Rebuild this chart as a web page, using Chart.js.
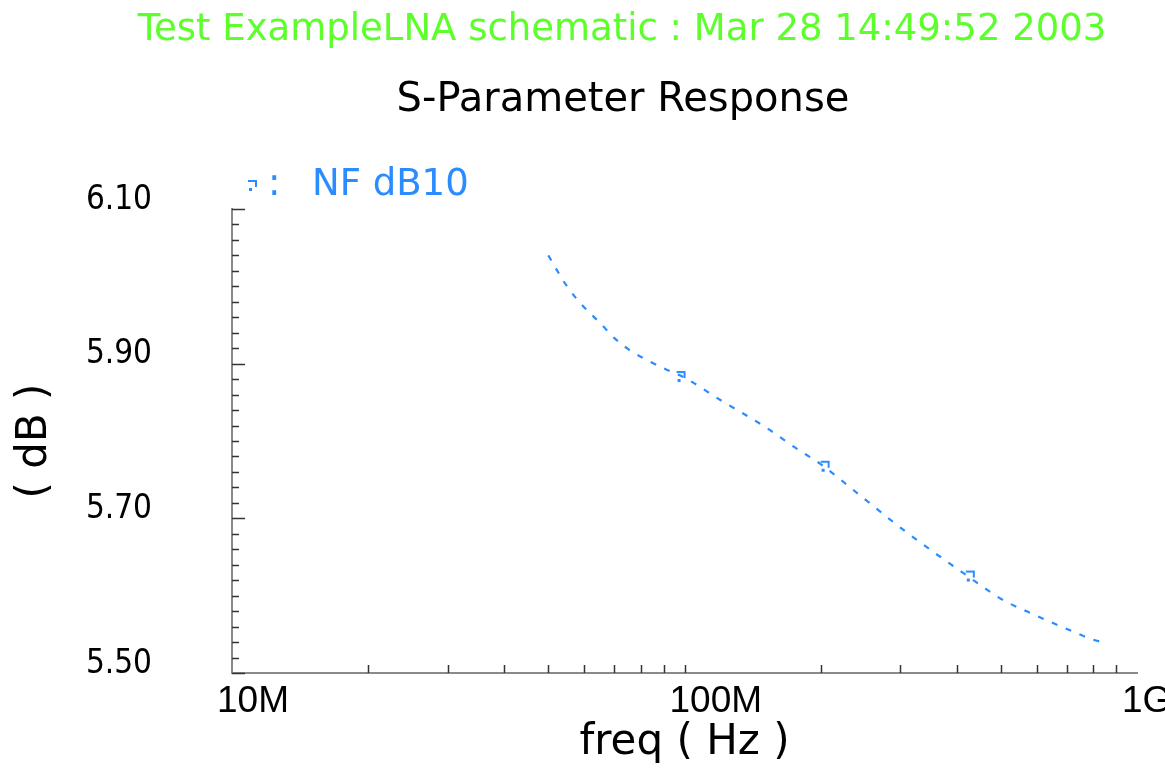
<!DOCTYPE html>
<html>
<head>
<meta charset="utf-8">
<script src="https://cdn.jsdelivr.net/npm/chart.js@4.4.1/dist/chart.umd.min.js"></script>
<style>
  html, body { margin: 0; padding: 0; background: #ffffff; }
  #wrap { width: 1165px; height: 768px; }
</style>
</head>
<body>
<div id="wrap"><canvas id="c" width="1165" height="768"></canvas></div>
<script>
// ---- data ----
const chartTitle = "Test ExampleLNA schematic : Mar 28 14:49:52 2003";
const chartSubtitle = "S-Parameter Response";
const seriesName = "NF dB10";
const xAxisTitle = "freq ( Hz )";
const yAxisTitle = "( dB )";

const freqHz = [50e6, 55e6, 60e6, 65e6, 70e6, 75e6, 80e6, 90e6, 100e6, 120e6, 150e6, 175e6,
                200e6, 250e6, 300e6, 350e6, 400e6, 450e6, 500e6, 600e6, 700e6, 800e6, 850e6];
const nfDb = [6.040, 6.000, 5.973, 5.953, 5.933, 5.919, 5.909, 5.894, 5.882, 5.853, 5.819, 5.792,
              5.770, 5.725, 5.688, 5.659, 5.635, 5.614, 5.596, 5.574, 5.557, 5.543, 5.539];

const markerFreqHz = [98e6, 204e6, 427e6];
const markerDb = [5.884, 5.768, 5.626];

const xTickValues = [1e7, 2e7, 3e7, 4e7, 5e7, 6e7, 7e7, 8e7, 9e7,
                     1e8, 2e8, 3e8, 4e8, 5e8, 6e8, 7e8, 8e8, 9e8, 1e9];
const xTickLabels = { 10000000: "10M", 100000000: "100M", 1000000000: "1G" };
const yMajorLabels = ["5.50", "5.70", "5.90", "6.10"];

// ---- styles ----
const BLUE = "#2a8cff";
const GREEN = "#5cff2a";

// marker glyph as a small canvas
function makeGlyph() {
  const g = document.createElement("canvas");
  g.width = 14; g.height = 16;
  const c = g.getContext("2d");
  c.strokeStyle = BLUE; c.fillStyle = BLUE; c.lineWidth = 2;
  c.beginPath(); c.moveTo(3, 4); c.lineTo(11, 4); c.lineTo(11, 10); c.stroke();
  c.fillRect(4, 11, 3, 3);
  return g;
}
const glyph = makeGlyph();

const lineData = freqHz.map((f, i) => ({ x: f, y: nfDb[i] }));
const markerData = markerFreqHz.map((f, i) => ({ x: f, y: markerDb[i] }));

const decorPlugin = {
  id: "decor",
  afterDraw(chart) {
    const { ctx, chartArea: a, scales: { x, y } } = chart;
    ctx.save();
    // inward tick marks
    ctx.strokeStyle = "#333";
    ctx.lineWidth = 1.5;
    y.ticks.forEach(t => {
      const py = Math.round(y.getPixelForValue(t.value)) + 0.5;
      const major = Math.round(t.value * 100) % 20 === 10;
      const len = major ? 13 : 7;
      ctx.beginPath(); ctx.moveTo(a.left, py); ctx.lineTo(a.left + len, py); ctx.stroke();
    });
    x.ticks.forEach(t => {
      if (t.value <= x.min || t.value >= x.max) return;
      const px = Math.round(x.getPixelForValue(t.value)) + 0.5;
      ctx.beginPath(); ctx.moveTo(px, a.bottom); ctx.lineTo(px, a.bottom - 8); ctx.stroke();
    });
    // titles
    ctx.textAlign = "center";
    ctx.textBaseline = "alphabetic";
    ctx.fillStyle = GREEN;
    ctx.font = "37px 'DejaVu Sans'";
    ctx.fillText(chartTitle, 622, 40);
    ctx.fillStyle = "#000";
    ctx.font = "40px 'DejaVu Sans'";
    ctx.fillText(chartSubtitle, 623, 111);
    // legend
    ctx.drawImage(glyph, 245, 177);
    ctx.textAlign = "left";
    ctx.fillStyle = BLUE;
    ctx.font = "37px 'DejaVu Sans'";
    ctx.fillText(":", 268, 195);
    ctx.fillText(seriesName, 312, 195);
    ctx.restore();
  }
};

new Chart(document.getElementById("c"), {
  type: "line",
  data: {
    datasets: [
      {
        label: seriesName,
        data: lineData,
        borderColor: BLUE,
        borderWidth: 2.2,
        borderDash: [6, 9],
        pointRadius: 0,
        fill: false,
        cubicInterpolationMode: "monotone"
      },
      {
        label: seriesName + " markers",
        data: markerData,
        showLine: false,
        pointStyle: glyph,
        pointRadius: 7
      }
    ]
  },
  options: {
    responsive: false,
    animation: false,
    devicePixelRatio: 1,
    layout: { padding: { top: 209, right: 28, left: 0, bottom: 0 } },
    plugins: {
      legend: { display: false },
      title: { display: false },
      tooltip: { enabled: false }
    },
    scales: {
      x: {
        type: "logarithmic",
        min: 1e7,
        max: 1e9,
        grid: { display: false, drawTicks: false },
        border: { display: true, color: "#8a8a8a", width: 2 },
        afterBuildTicks(scale) { scale.ticks = xTickValues.map(v => ({ value: v })); },
        afterFit(scale) { scale.height = 95; scale.paddingLeft = 0; scale.paddingRight = 0; },
        ticks: {
          autoSkip: false,
          maxRotation: 0,
          minRotation: 0,
          align: "start",
          labelOffset: -15,
          padding: 7,
          color: "#000",
          font: { family: "'Liberation Sans'", size: 37 },
          callback(value) { return xTickLabels[Math.round(value)] || ""; }
        },
        title: {
          display: true,
          text: xAxisTitle,
          color: "#000",
          font: { family: "'DejaVu Sans'", size: 42 },
          padding: { top: 0, bottom: 0 }
        }
      },
      y: {
        type: "linear",
        min: 5.5,
        max: 6.1,
        grid: { display: false, drawTicks: false },
        border: { display: true, color: "#8a8a8a", width: 2 },
        afterFit(scale) { scale.width = 232; scale.paddingTop = 0; scale.paddingBottom = 0; },
        ticks: {
          autoSkip: false,
          stepSize: 0.02,
          padding: 80,
          labelOffset: -9,
          color: "#000",
          font: { family: "'Liberation Sans Narrow', 'DejaVu Sans Condensed', 'Liberation Sans'", size: 33 },
          callback(value) {
            const s = Number(value).toFixed(2);
            return yMajorLabels.includes(s) ? s : "";
          }
        },
        title: {
          display: true,
          text: yAxisTitle,
          color: "#000",
          font: { family: "'DejaVu Sans'", size: 42 },
          padding: { top: 10, bottom: 0 }
        }
      }
    }
  },
  plugins: [decorPlugin]
});
</script>
</body>
</html>
